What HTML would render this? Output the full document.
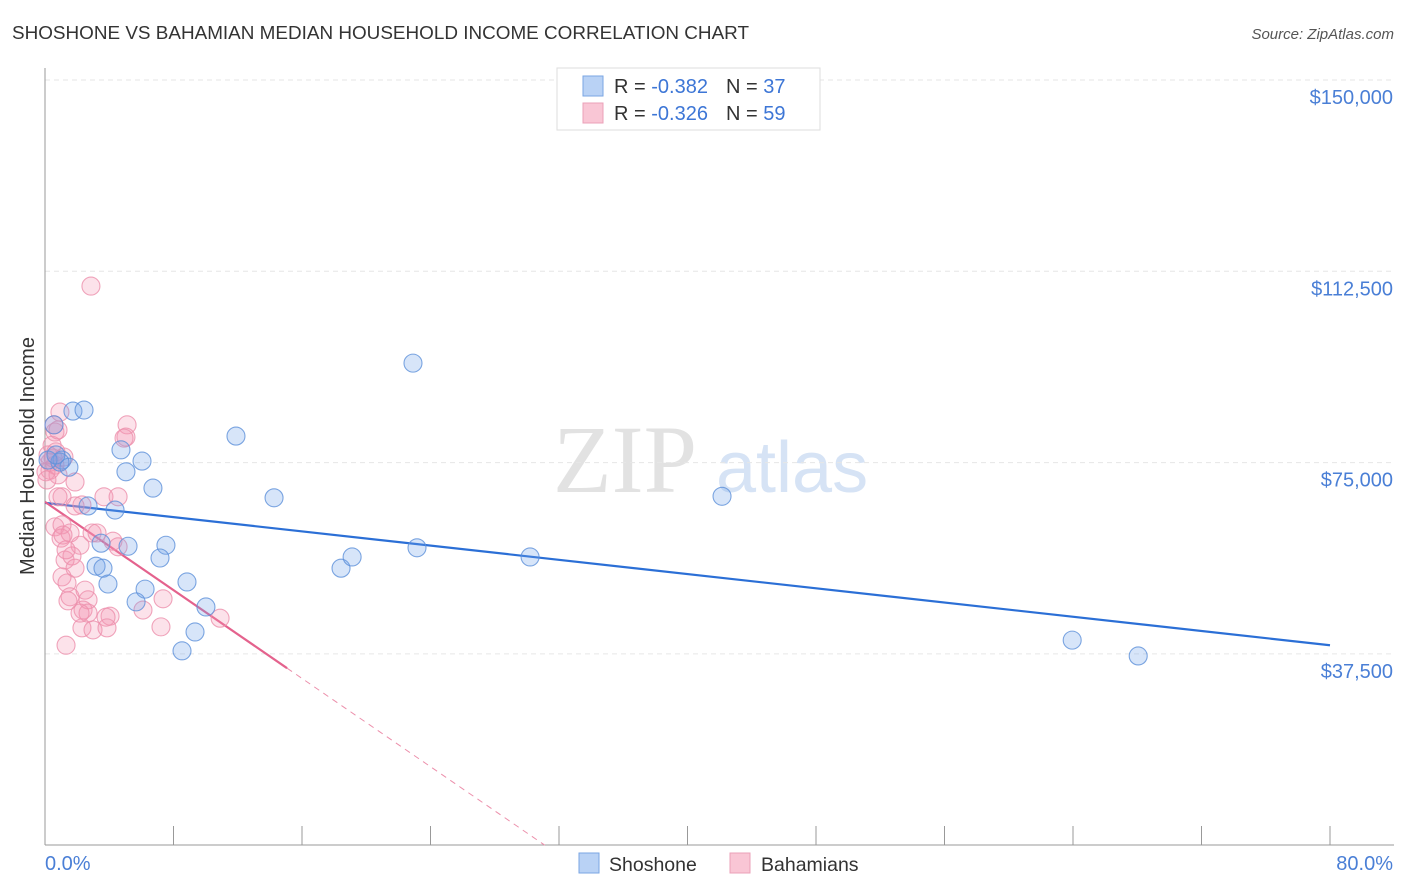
<!DOCTYPE html>
<html><head><meta charset="utf-8"><style>
body{margin:0;background:#fff;font-family:"Liberation Sans",sans-serif}
svg{display:block}
</style></head><body>
<svg id="chart" width="1406" height="892" viewBox="0 0 1406 892" xmlns="http://www.w3.org/2000/svg">
<text x="12" y="39" font-size="18" fill="#333" textLength="737" lengthAdjust="spacingAndGlyphs" font-family="Liberation Sans, sans-serif">SHOSHONE VS BAHAMIAN MEDIAN HOUSEHOLD INCOME CORRELATION CHART</text>
<text x="1394" y="39" font-size="15" fill="#555" text-anchor="end" font-style="italic">Source: ZipAtlas.com</text>
<g>
<text x="553" y="492" font-size="96" fill="#e2e2e2" font-family="Liberation Serif, serif">ZIP</text>
<text x="716" y="492" font-size="72" fill="#d6e3f5" font-family="Liberation Sans, sans-serif">atlas</text>
</g>
<g id="grid"></g>
<line x1="45" y1="68" x2="45" y2="845" stroke="#999" stroke-width="1"/>
<line x1="45" y1="845" x2="1394" y2="845" stroke="#999" stroke-width="1"/>
<g id="xticks"></g>
<text transform="translate(34,456) rotate(-90)" font-size="20" fill="#333" text-anchor="middle">Median Household Income</text>
<text x="45" y="870" font-size="20" fill="#4a7fd6">0.0%</text>
<text x="1393" y="870" font-size="20" fill="#4a7fd6" text-anchor="end">80.0%</text>
<g id="trend"></g>
<g id="pts"></g>
<g>
<rect x="557" y="68" width="263" height="62" fill="#fff" stroke="#ddd"/>
<rect x="583" y="76" width="20" height="20" fill="#b9d2f5" stroke="#7aa6e3"/>
<rect x="583" y="103" width="20" height="20" fill="#f9c6d5" stroke="#eba0b8"/>
<text x="614" y="93" font-size="20" fill="#333">R = <tspan fill="#3d76d6">-0.382</tspan><tspan dx="18">N = </tspan><tspan fill="#3d76d6">37</tspan></text>
<text x="614" y="120" font-size="20" fill="#333">R = <tspan fill="#3d76d6">-0.326</tspan><tspan dx="18">N = </tspan><tspan fill="#3d76d6">59</tspan></text>
</g>
<g>
<rect x="579" y="853" width="20" height="20" fill="#b9d2f5" stroke="#7aa6e3"/>
<text x="609" y="871" font-size="19.5" fill="#333">Shoshone</text>
</g>
<g>
<rect x="730" y="853" width="20" height="20" fill="#f9c6d5" stroke="#eba0b8"/>
<text x="761" y="871" font-size="19.5" fill="#333">Bahamians</text>
</g>
</svg>
<script>
const yTicks=[37500,75000,112500,150000];
const yTickLabels=["$37,500","$75,000","$112,500","$150,000"];
const shoX=[0.56,1.74,2.43,1.06,1.49,0.93,2.68,4.36,4.73,6.04,5.04,6.72,11.89,14.26,22.91,42.15,3.49,5.17,7.53,7.16,3.18,3.61,3.92,8.84,6.23,5.67,10.02,9.34,8.53,18.43,19.12,23.16,30.2,63.95,68.06,0.19,0.68];
const shoY=[82.4,85.1,85.3,75.5,74.1,75.1,66.5,65.7,77.5,75.3,73.2,70.0,80.2,68.1,94.5,68.4,59.2,58.6,58.8,56.3,54.7,54.3,51.2,51.6,50.2,47.7,46.7,41.8,38.1,54.3,56.5,58.3,56.5,40.2,37.1,75.5,76.5];
const bahX=[0.93,0.56,0.62,0.44,0.19,0.31,0.62,0.31,0.06,0.81,0.12,1.87,1.06,0.81,3.67,4.55,2.30,1.87,5.11,5.04,4.92,0.62,1.06,1.56,2.93,3.24,1.00,1.12,4.23,4.55,2.18,1.25,1.68,1.87,1.06,1.37,1.56,1.43,2.68,2.37,4.05,2.68,3.80,2.30,2.99,3.86,6.10,7.35,7.22,10.90,1.31,2.86,0.81,0.50,1.18,0.68,2.49,1.31,2.18];
const bahY=[84.9,82.4,81.0,78.4,76.5,75.1,74.5,73.5,73.2,72.6,71.6,71.2,68.3,68.3,68.3,68.3,66.7,66.5,82.4,80.0,79.8,62.4,62.8,61.2,61.2,61.2,60.2,60.8,59.6,58.5,58.8,55.9,56.7,54.3,52.6,51.4,48.7,47.9,48.1,46.1,44.9,45.5,44.7,42.6,42.2,42.6,46.1,48.3,42.8,44.5,39.2,109.6,81.4,75.9,76.1,77.1,50.0,57.9,45.5];
const shoTrend=[67.1,39.2]; // value at 0% and 80%
const bahTrend=[67.3,-2.163]; // intercept, slope per %
const bahSolidEnd=15.07;

const NS="http://www.w3.org/2000/svg";
const X=p=>45+p*16.0625;
const Y=k=>80+(150-k)/37.5*191.3;
function mk(t,a,parent){const e=document.createElementNS(NS,t);for(const k in a)e.setAttribute(k,a[k]);document.getElementById(parent).appendChild(e);return e;}
yTicks.forEach((v,i)=>{
  const y=Y(v/1000);
  const l=mk('line',{x1:45,x2:1394,y1:y,y2:y,stroke:'#e6e6e6','stroke-dasharray':'5,4'},'grid');
  
  
  const t=mk('text',{x:1393,y:y+24,'font-size':20,fill:'#4a7fd6','text-anchor':'end'},'grid');
  t.textContent=yTickLabels[i];
  
  
});
for(let i=1;i<=10;i++){
  const l=mk('line',{x1:X(i*8),x2:X(i*8),y1:826,y2:845,stroke:'#999'},'xticks');
  
  
}
function dots(xs,ys,fill,stroke,name){
  xs.forEach((x,i)=>{
    const c=mk('circle',{cx:X(x),cy:Y(ys[i]),r:9,fill:fill,stroke:stroke,'stroke-width':1.1,'stroke-opacity':0.8},'pts');
    
    
  });
}
dots(bahX,bahY,'rgba(244,150,180,0.28)','#ec8fab','bahamians-point');
dots(shoX,shoY,'rgba(110,160,235,0.28)','#5d90da','shoshone-point');
let l=mk('line',{x1:X(0),y1:Y(shoTrend[0]),x2:X(80),y2:Y(shoTrend[1]),stroke:'#2b6fd6','stroke-width':2.2},'trend');


const bz=-bahTrend[0]/bahTrend[1];
l=mk('line',{x1:X(bahSolidEnd),y1:Y(bahTrend[0]+bahTrend[1]*bahSolidEnd),x2:X(bz),y2:Y(0),stroke:'#ec8fab','stroke-width':1,'stroke-dasharray':'6,5'},'trend');


l=mk('line',{x1:X(0),y1:Y(bahTrend[0]),x2:X(bahSolidEnd),y2:Y(bahTrend[0]+bahTrend[1]*bahSolidEnd),stroke:'#e4628d','stroke-width':2.2},'trend');


</script>
</body></html>
